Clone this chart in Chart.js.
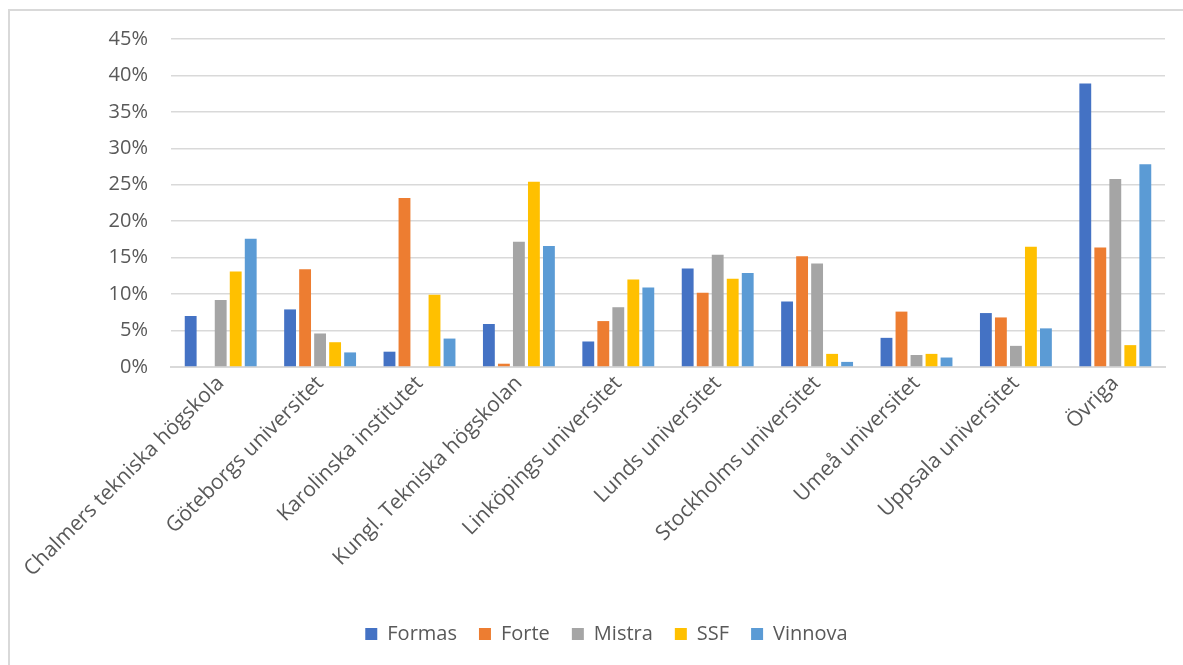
<!DOCTYPE html>
<html>
<head>
<meta charset="utf-8">
<script src="https://cdn.jsdelivr.net/npm/chart.js@4/dist/chart.umd.min.js"></script>
<style>
  html, body { margin: 0; padding: 0; background: #fff; }
  #wrap { position: absolute; left: 0; top: 0; width: 1183px; height: 665px; }
  #frame { position: absolute; left: 8px; top: 9px; width: 1175px; height: 656px;
           border-left: 2px solid #d9d9d9; border-top: 2px solid #d9d9d9; box-sizing: border-box; }
  canvas { position: absolute; left: 0; top: 0; }
</style>
</head>
<body>
<div id="wrap">
  <div id="frame"></div>
  <canvas id="chart" width="1183" height="665"></canvas>
</div>
<script>
// lärosäten
const categories = [
  'Chalmers tekniska högskola',
  'Göteborgs universitet',
  'Karolinska institutet',
  'Kungl. Tekniska högskolan',
  'Linköpings universitet',
  'Lunds universitet',
  'Stockholms universitet',
  'Umeå universitet',
  'Uppsala universitet',
  'Övriga'
];

// andel i procent
const formas  = [7.0, 7.9, 2.1, 5.9, 3.5, 13.5, 9.0, 4.0, 7.4, 38.9];
const forte   = [0, 13.4, 23.2, 0.45, 6.3, 10.2, 15.2, 7.6, 6.8, 16.4];
const mistra  = [9.2, 4.6, 0, 17.2, 8.2, 15.4, 14.2, 1.65, 2.9, 25.8];
const ssf     = [13.1, 3.4, 9.9, 25.4, 12.0, 12.1, 1.8, 1.8, 16.5, 3.0];
const vinnova = [17.6, 2.0, 3.9, 16.6, 10.9, 12.9, 0.7, 1.3, 5.3, 27.8];

const yTicks = [0, 5, 10, 15, 20, 25, 30, 35, 40, 45];

const fontFam = '"Open Sans", Lato, sans-serif';
const textColor = '#595959';
const gridColor = '#d9d9d9';

function ds(label, data, color) {
  return {
    label: label,
    data: data,
    backgroundColor: color,
    borderWidth: 0,
    categoryPercentage: 0.755,
    barPercentage: 0.79
  };
}

new Chart(document.getElementById('chart').getContext('2d'), {
  type: 'bar',
  data: {
    labels: categories,
    datasets: [
      ds('Formas', formas, '#4472c4'),
      ds('Forte', forte, '#ed7d31'),
      ds('Mistra', mistra, '#a5a5a5'),
      ds('SSF', ssf, '#ffc000'),
      ds('Vinnova', vinnova, '#5b9bd5')
    ]
  },
  options: {
    responsive: false,
    animation: false,
    layout: {
      padding: { left: 48, right: 18, top: 39, bottom: 11 }
    },
    scales: {
      x: {
        grid: { display: false, drawTicks: false },
        border: { color: gridColor, width: 2 },
        afterFit: (axis) => { axis.height = 235; },
        ticks: {
          color: textColor,
          font: { family: fontFam, size: 21 },
          minRotation: 45,
          maxRotation: 45,
          padding: 4
        }
      },
      y: {
        min: 0,
        max: 45,
        afterBuildTicks: (axis) => { axis.ticks = yTicks.map(v => ({ value: v })); },
        afterFit: (axis) => { axis.width = 123; },
        grid: { color: gridColor, lineWidth: 1.5, drawTicks: false },
        border: { display: false },
        ticks: {
          color: textColor,
          font: { family: fontFam, size: 20 },
          padding: 23,
          callback: (v) => v + '%'
        }
      }
    },
    plugins: {
      legend: {
        position: 'bottom',
        labels: {
          color: textColor,
          font: { family: fontFam, size: 20 },
          boxWidth: 12,
          boxHeight: 12,
          padding: 22
        }
      },
      tooltip: { enabled: false }
    }
  }
});
</script>
</body>
</html>
